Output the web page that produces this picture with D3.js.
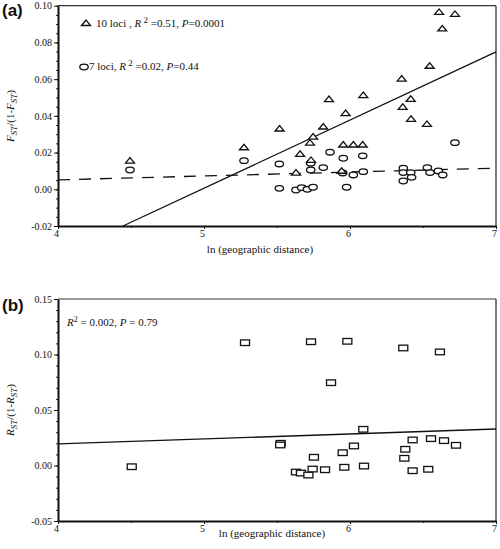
<!DOCTYPE html>
<html><head><meta charset="utf-8">
<script src="https://cdn.jsdelivr.net/npm/d3@7"></script>
<style>
body{margin:0;background:#fff;}
svg{display:block;}
text{font-family:"Liberation Serif","Times New Roman",serif;fill:#111;}
</style></head>
<body><svg id="c" width="500" height="549"></svg>
<script>
// ---- data ----
const tri10X = [4.493,5.274,5.518,5.630,5.658,5.726,5.733,5.747,5.817,5.856,5.943,5.954,5.970,6.023,6.087,6.091,6.354,6.361,6.416,6.418,6.527,6.546,6.610,6.632,6.719];
const tri10Y = [0.0156,0.0229,0.0331,0.0091,0.0193,0.0254,0.0160,0.0287,0.0342,0.0491,0.0101,0.0244,0.0415,0.0244,0.0244,0.0513,0.0603,0.0449,0.0493,0.0384,0.0356,0.0673,0.0966,0.0876,0.0955];
const circ7X = [4.493,5.274,5.516,5.516,5.630,5.669,5.708,5.731,5.731,5.747,5.817,5.863,5.950,5.954,5.977,6.023,6.087,6.091,6.365,6.365,6.416,6.422,6.365,6.530,6.548,6.605,6.635,6.719];
const circ7Y = [0.0105,0.0156,0.0138,0.0005,-0.0004,0.0009,0.0000,0.0142,0.0105,0.0011,0.0118,0.0202,0.0089,0.0169,0.0011,0.0078,0.0182,0.0096,0.0115,0.0091,0.0091,0.0065,0.0045,0.0118,0.0091,0.0100,0.0078,0.0254];
const rstX = [5.281,5.733,5.982,6.365,6.616,5.870,4.505,5.525,5.522,5.753,5.950,5.630,5.664,5.715,5.744,5.829,5.961,6.091,6.027,6.096,6.429,6.379,6.372,6.429,6.555,6.644,6.726,6.536];
const rstY = [0.1106,0.1115,0.1119,0.1059,0.1023,0.0746,-0.0011,0.0200,0.0185,0.0074,0.0115,-0.0059,-0.0068,-0.0086,-0.0032,-0.0038,-0.0016,0.0326,0.0176,-0.0005,0.0230,0.0146,0.0065,-0.0047,0.0242,0.0224,0.0182,-0.0034];
// regression fits: [slope, intercept]
const fit10 = [0.0371, -0.1849];
const fit7 = [0.00213, -0.0034];
const fitR = [0.0045, 0.0014];
const xTicks = [4,5,6,7];
const yTicksA = [-0.02,0.00,0.02,0.04,0.06,0.08,0.10];
const yTicksB = [-0.05,0.00,0.05,0.10,0.15];

const SERIF = "'Liberation Serif','Times New Roman',serif";
const svg = d3.select("#c");
const x = d3.scaleLinear().domain([4,7]).range([58,496]);
const yA = d3.scaleLinear().domain([-0.02,0.10]).range([226,5.7]);
const yB = d3.scaleLinear().domain([-0.05,0.15]).range([521,299]);

function frame(y, yTicks, minorStep, xlabelY, xlabelX){
  const [y0,y1] = y.domain();
  svg.append("line").attr("x1",x(4)).attr("x2",x(7)).attr("y1",y(y1)).attr("y2",y(y1)).attr("stroke","#333").attr("stroke-width",1.2);
  svg.append("line").attr("x1",x(7)).attr("x2",x(7)).attr("y1",y(y1)).attr("y2",y(y0)).attr("stroke","#222").attr("stroke-width",1.2);
  const minors = d3.range(Math.round((y1-y0)/minorStep)+1).map(i=>y0+i*minorStep);
  const gm = svg.append("g").attr("transform",`translate(${x(4)},0)`)
    .call(d3.axisLeft(y).tickValues(minors).tickSize(2).tickFormat(""));
  gm.select(".domain").remove();
  gm.selectAll("line").attr("stroke","#222");
  const gy = svg.append("g").attr("transform",`translate(${x(4)},0)`)
    .call(d3.axisLeft(y).tickValues(yTicks).tickSize(4).tickSizeOuter(0).tickPadding(2).tickFormat(d=>d.toFixed(2)));
  gy.attr("font-family",SERIF).attr("font-size",10);
  gy.select(".domain").attr("stroke","#111").attr("stroke-width",2);
  gy.selectAll("line").attr("stroke","#111");
  gy.selectAll("text").style("font-family",SERIF).style("font-size","10px").attr("fill","#111");
  const gxm = svg.append("g").attr("transform",`translate(0,${y(y0)})`)
    .call(d3.axisBottom(x).tickValues([4.5,5.5,6.5]).tickSize(2).tickFormat(""));
  gxm.select(".domain").remove();
  gxm.selectAll("line").attr("stroke","#222");
  const gx = svg.append("g").attr("transform",`translate(0,${y(y0)})`)
    .call(d3.axisBottom(x).tickValues(xTicks).tickSize(3).tickSizeOuter(0).tickPadding(1).tickFormat(d3.format("d")));
  gx.attr("font-family",SERIF).attr("font-size",10);
  gx.select(".domain").attr("stroke","#111").attr("stroke-width",2);
  gx.selectAll("line").attr("stroke","#111");
  gx.selectAll("text").style("font-family",SERIF).style("font-size","10px").attr("fill","#111").attr("dx","-2");
  svg.append("text").attr("x",xlabelX).attr("y",xlabelY).attr("text-anchor","middle")
    .style("font-size","11px").text("ln (geographic distance)");
}

function fitLine(y, fit, dash){
  const [m,b] = fit;
  const [y0,y1] = y.domain();
  let xs = 4, xe = 7;
  if (m*xs+b < y0) xs = (y0-b)/m;
  if (m*xe+b > y1) xe = (y1-b)/m;
  svg.append("line").attr("x1",x(xs)).attr("y1",y(m*xs+b)).attr("x2",x(xe)).attr("y2",y(m*xe+b))
    .attr("stroke","#111").attr("stroke-width",1.3).attr("stroke-dasharray",dash||null);
}

const triPath = "M-4.5,2.5L0,-3L4.5,2.5Z";

// ---------- panel (a) ----------
frame(yA, yTicksA, 0.005, 253, 260);
fitLine(yA, fit7, "12,9");
fitLine(yA, fit10);
svg.append("g").selectAll("ellipse").data(d3.range(circ7X.length)).join("ellipse")
  .attr("cx",i=>x(circ7X[i])).attr("cy",i=>yA(circ7Y[i])).attr("rx",4.2).attr("ry",2.8)
  .attr("fill","white").attr("stroke","#111").attr("stroke-width",1.3);
svg.append("g").selectAll("path").data(d3.range(tri10X.length)).join("path")
  .attr("transform",i=>`translate(${x(tri10X[i])},${yA(tri10Y[i])})`).attr("d",triPath)
  .attr("fill","white").attr("stroke","#111").attr("stroke-width",1.3);

// legend
svg.append("path").attr("transform","translate(86,23)").attr("d",triPath).attr("fill","white").attr("stroke","#111").attr("stroke-width",1.3);
const l1 = svg.append("text").attr("x",96).attr("y",27).style("font-size","11px");
l1.append("tspan").text("10 loci , ");
l1.append("tspan").style("font-style","italic").text("R");
l1.append("tspan").attr("dy",-4).style("font-size","9px").text(" 2");
l1.append("tspan").attr("dy",4).text(" =0.51, ");
l1.append("tspan").style("font-style","italic").text("P");
l1.append("tspan").text("=0.0001");
svg.append("ellipse").attr("cx",84).attr("cy",67).attr("rx",4.2).attr("ry",2.8).attr("fill","white").attr("stroke","#111").attr("stroke-width",1.3);
const l2 = svg.append("text").attr("x",89).attr("y",70).style("font-size","11px");
l2.append("tspan").text("7 loci,  ");
l2.append("tspan").style("font-style","italic").text("R");
l2.append("tspan").attr("dy",-4).style("font-size","9px").text(" 2");
l2.append("tspan").attr("dy",4).text(" =0.02, ");
l2.append("tspan").style("font-style","italic").text("P");
l2.append("tspan").text("=0.44");

function yLabel(cy, letter){
  const t = svg.append("text").attr("transform",`translate(14,${cy}) rotate(-90)`).attr("text-anchor","middle").style("font-size","11px");
  t.append("tspan").style("font-style","italic").text(letter);
  t.append("tspan").style("font-style","italic").style("font-size","9px").attr("dy",3).text("ST");
  t.append("tspan").attr("dy",-3).text("/(1-");
  t.append("tspan").style("font-style","italic").text(letter);
  t.append("tspan").style("font-style","italic").style("font-size","9px").attr("dy",3).text("ST");
  t.append("tspan").attr("dy",-3).text(")");
}
yLabel(116, "F");

svg.append("text").attr("x",2).attr("y",16).style("font-family","'Liberation Sans', Arial, sans-serif").style("font-weight","bold").style("font-size","17px").text("(a)");

// ---------- panel (b) ----------
frame(yB, yTicksB, 0.01, 537, 272);
fitLine(yB, fitR);
svg.append("g").selectAll("rect").data(d3.range(rstX.length)).join("rect")
  .attr("x",i=>x(rstX[i])-4.5).attr("y",i=>yB(rstY[i])-2.8).attr("width",9).attr("height",5.6)
  .attr("fill","white").attr("stroke","#111").attr("stroke-width",1.3);
const tb = svg.append("text").attr("x",67).attr("y",326).style("font-size","11px");
tb.append("tspan").style("font-style","italic").text("R");
tb.append("tspan").attr("dy",-4).style("font-size","8px").text("2");
tb.append("tspan").attr("dy",4).text(" = 0.002, ");
tb.append("tspan").style("font-style","italic").text("P");
tb.append("tspan").text(" = 0.79");
yLabel(410, "R");
svg.append("text").attr("x",2).attr("y",311).style("font-family","'Liberation Sans', Arial, sans-serif").style("font-weight","bold").style("font-size","17px").text("(b)");
</script></body></html>
